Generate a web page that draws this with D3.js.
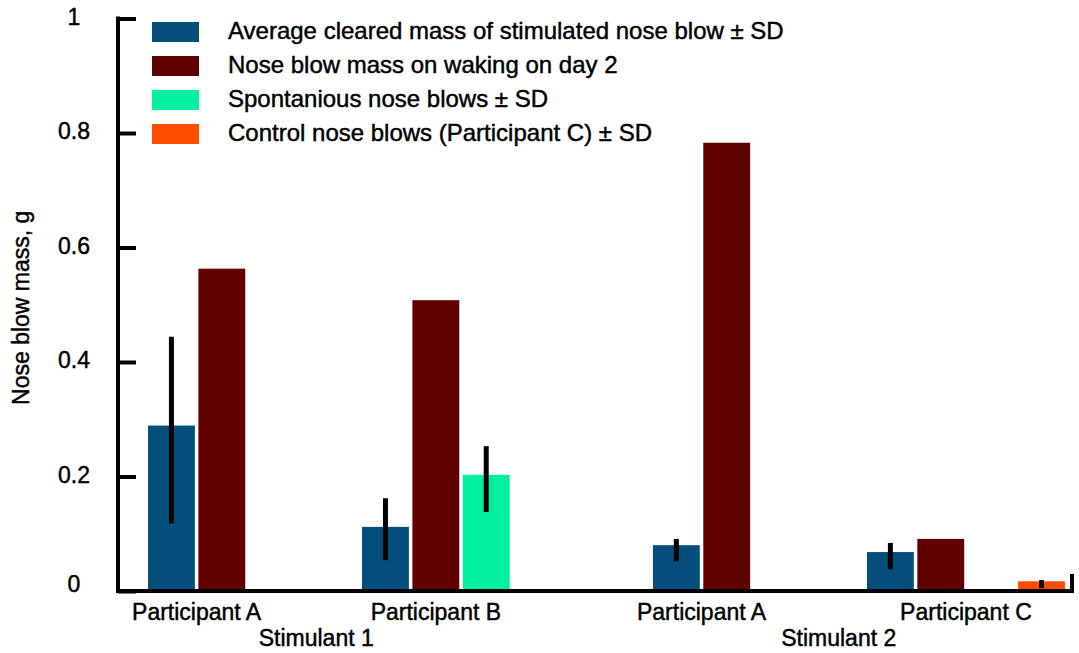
<!DOCTYPE html>
<html>
<head>
<meta charset="utf-8">
<script src="https://cdn.jsdelivr.net/npm/d3@7"></script>
<style>
  body { margin: 0; background: #fff; }
  text { font-family: "Liberation Sans", Arial, sans-serif; fill: #000; stroke: #000; stroke-width: 0.45px; }
</style>
</head>
<body>
<div class="chart"></div>
<script>
const width = 1079;
const height = 653;

// data
const stimulants = ['Stimulant 1', 'Stimulant 2'];
const participants = [['Participant A', 'Participant B'], ['Participant A', 'Participant C']];
const seriesNames = [
  'Average cleared mass of stimulated nose blow \u00b1 SD',
  'Nose blow mass on waking on day 2',
  'Spontanious nose blows \u00b1 SD',
  'Control nose blows (Participant C) \u00b1 SD'
];
const seriesColors = ['#034e7b', '#600000', '#00f0a0', '#ff4d00'];
// values per stimulant / participant, one per series (null = no bar)
const means = [
  [[0.289, 0.563, null, null], [0.112, 0.508, 0.203, null]],
  [[0.080, 0.783, null, null], [0.068, 0.091, null, 0.017]]
];
// error bar ends (mean - SD, mean + SD) as drawn
const errLow = [
  [[0.118, null, null, null], [0.054, null, 0.138, null]],
  [[0.052, null, null, null], [0.038, null, null, 0.005]]
];
const errHigh = [
  [[0.444, null, null, null], [0.162, null, 0.253, null]],
  [[0.091, null, null, null], [0.084, null, null, 0.019]]
];
const yTicks = [0, 0.2, 0.4, 0.6, 0.8, 1];

const margin = {top: 18.5, bottom: 62, left: 118, right: 7};

const svg = d3.select('.chart')
  .append('svg')
  .attr('width', width)
  .attr('height', height)

const y = d3.scaleLinear()
  .domain([0, 1])
  .range([height - margin.bottom, margin.top])

const x0 = d3.scaleBand()
  .domain(stimulants)
  .range([148, 1072])
  .paddingInner(0.17)

const x1 = d3.scaleBand()
  .domain([0, 1])
  .range([0, x0.bandwidth()])
  .paddingInner(0.042)

const x2 = d3.scaleBand()
  .domain([0, 1, 2, 3])
  .range([0, 198])
  .paddingInner(0.07)

// flatten into rows for drawing
let rows = []
stimulants.forEach((s, si) => {
  participants[si].forEach((p, pi) => {
    means[si][pi].forEach((v, k) => {
      if (v !== null) {
        rows.push({s: si, p: pi, k: k, value: v,
          lo: errLow[si][pi][k], hi: errHigh[si][pi][k],
          x: x0(s) + x1(pi) + x2(k)})
      }
    })
  })
})

// bars
svg.append('g')
  .selectAll('rect')
  .data(rows)
  .enter().append('rect')
    .attr('x', d => d.x)
    .attr('y', d => y(d.value))
    .attr('width', x2.bandwidth())
    .attr('height', d => y(0) - y(d.value))
    .attr('fill', d => seriesColors[d.k])

// error bars, no caps
svg.append('g')
  .selectAll('line')
  .data(rows.filter(d => d.lo !== null))
  .enter().append('line')
    .attr('x1', d => d.x + x2.bandwidth() / 2)
    .attr('x2', d => d.x + x2.bandwidth() / 2)
    .attr('y1', d => y(d.lo))
    .attr('y2', d => y(d.hi))
    .attr('stroke', '#000')
    .attr('stroke-width', 5)

// y axis
const yAxis = svg.append('g')
  .attr('transform', `translate(${margin.left},0)`)
  .call(d3.axisRight(y).tickValues(yTicks).tickSize(18).tickFormat(''))
yAxis.select('.domain').remove()
yAxis.selectAll('.tick line').attr('stroke', '#000').attr('stroke-width', 4)

svg.append('line')
  .attr('x1', margin.left).attr('x2', margin.left)
  .attr('y1', y(1) - 2).attr('y2', y(0) + 2)
  .attr('stroke', '#000').attr('stroke-width', 4)

svg.append('g')
  .selectAll('text')
  .data(yTicks)
  .enter().append('text')
    .attr('x', 74)
    .attr('y', d => y(d) + (d === 0 ? -5 : 0))
    .attr('text-anchor', 'middle')
    .attr('dominant-baseline', 'middle')
    .style('font-size', '23px')
    .text(d => d)

svg.append('text')
  .attr('transform', `translate(29, ${(y(0) + y(1)) / 2 + 3}) rotate(-90)`)
  .attr('text-anchor', 'middle')
  .style('font-size', '23px')
  .text('Nose blow mass, g')

// x axis
svg.append('line')
  .attr('x1', margin.left - 2).attr('x2', width - margin.right)
  .attr('y1', y(0)).attr('y2', y(0))
  .attr('stroke', '#000').attr('stroke-width', 4)
svg.append('line')
  .attr('x1', width - margin.right).attr('x2', width - margin.right)
  .attr('y1', y(0) + 2).attr('y2', y(0) - 17)
  .attr('stroke', '#000').attr('stroke-width', 4)

// participant labels centred on the bars they own
let labelCentres = []
stimulants.forEach((s, si) => {
  let centres = []
  participants[si].forEach((p, pi) => {
    let bars = rows.filter(d => d.s === si && d.p === pi)
    let cx = (d3.min(bars, d => d.x) + d3.max(bars, d => d.x) + x2.bandwidth()) / 2
    centres.push(cx)
    svg.append('text')
      .attr('x', cx)
      .attr('y', 620)
      .attr('text-anchor', 'middle')
      .style('font-size', '23px')
      .text(p)
  })
  labelCentres.push(d3.mean(centres))
})

svg.append('g')
  .selectAll('text')
  .data(stimulants)
  .enter().append('text')
    .attr('x', (d, i) => labelCentres[i] + (i === 1 ? 5 : 0))
    .attr('y', 646)
    .attr('text-anchor', 'middle')
    .style('font-size', '23px')
    .text(d => d)

// legend
const legend = svg.append('g')
  .attr('class', 'legend')
  .selectAll('g')
  .data(seriesNames)
  .enter().append('g')
    .attr('transform', (d, i) => `translate(152, ${22 + i * 34})`)

legend.append('rect')
  .attr('width', 47)
  .attr('height', 20)
  .attr('fill', (d, i) => seriesColors[i])

legend.append('text')
  .attr('x', 76)
  .attr('y', 11)
  .attr('dominant-baseline', 'middle')
  .style('font-size', '24px')
  .text(d => d)
</script>
</body>
</html>
